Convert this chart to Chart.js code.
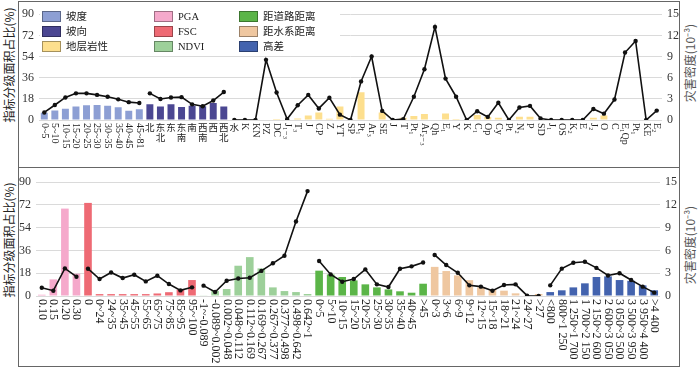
<!DOCTYPE html>
<html lang="zh">
<head>
<meta charset="utf-8">
<title>指标分级面积占比与灾害密度</title>
<script src="https://cdn.jsdelivr.net/npm/chart.js@4.4.1/dist/chart.umd.min.js"></script>
<style>
    html, body { margin: 0; padding: 0; background: #fff; }
    body {
        width: 700px; height: 368px; position: relative; overflow: hidden;
        font-family: "Liberation Serif", "Noto Sans CJK SC", serif; color: #222;
    }
    .frame { position: absolute; left: 18px; width: 660px; border: 1px solid #666; }
    canvas { position: absolute; left: 19px; }
    .ytitle {
        position: absolute; white-space: nowrap; font-size: 12px;
        font-family: "Noto Sans CJK SC", sans-serif; line-height: 14px;
        transform: translate(-50%, -50%) rotate(-90deg);
    }
    .legend {
        position: absolute; left: 40px; top: 11px; width: 300px; height: 42px; background: #fff;
    }
    .legend .item { position: absolute; height: 12px; font-size: 10.5px; line-height: 12px; white-space: nowrap; }
    .legend .sw {
        display: inline-block; width: 19px; height: 11px; vertical-align: top;
        border: 1px solid rgba(0, 0, 0, 0.35); margin-right: 5px; box-sizing: border-box;
    }
</style>
</head>
<body>

<div class="frame" style="top:1px;height:165px;"></div>
<div class="frame" style="top:167px;height:198px;"></div>

<canvas id="topChart" width="660" height="165" style="top:2px;width:660px;height:165px;"></canvas>
<canvas id="bottomChart" width="660" height="198" style="top:168px;width:660px;height:198px;"></canvas>

<div class="ytitle" style="left:9px;top:65px;">指标分级面积占比(%)</div>
<div class="ytitle" style="left:9px;top:240px;">指标分级面积占比(%)</div>
<div class="ytitle" style="left:690px;top:63px;color:#555;">灾害密度(10⁻³)</div>
<div class="ytitle" style="left:690px;top:245px;color:#555;">灾害密度(10⁻³)</div>

<div class="legend" id="legend"></div>

<script>
// ============================================================
//  DATA  (area share % on the left axis, hazard density 10^-3 on the right)
// ============================================================

const slopeLabels = ["0~5", "5~10", "10~15", "15~20", "20~25", "25~30", "30~35", "35~40", "40~45", "45~81"];
const slopeArea = [6.2, 8.1, 9.5, 11.4, 12.5, 12.7, 12.2, 10.8, 7.9, 9.2];
const slopeDensity = [1.07, 2.13, 3.2, 3.78, 3.78, 3.56, 3.29, 2.93, 2.53, 2.4];

const aspectLabels = ["北", "东北", "东", "东南", "南", "西南", "西", "西北"];
const aspectArea = [13.5, 11.4, 13.5, 11.1, 12.2, 11.7, 14.4, 11.4];
const aspectDensity = [3.78, 2.98, 3.2, 3.24, 2.22, 1.96, 2.76, 3.96];

const lithoLabels = ["水", "K", "KN", "PZ", "DC", "J₁₋₃", "T₃", "J", "CP", "Z", "YT", "SP", "Pt₁", "Ar₃",
    "SE", "J", "T", "Pt₁", "Ar₂₋₃", "Qh", "E₁", "Y", "K", "C₁", "Op", "Cy", "Pt", "N₂", "P", "SD",
    "J₁", "OS", "K₂", "E", "J₂", "O", "C", "E₁Qp", "Pt₁", "KE", "E₂"];
const lithoArea = [0, 0, 0, 0, 0.8, 0, 1.3, 3.8, 6.4, 1.0, 11.5, 0, 23.5, 0,
    6.4, 0, 1.9, 3.5, 5.0, 0, 5.6, 0.8, 0, 4.3, 2.5, 2.0, 0, 2.7, 2.7, 0.5,
    0, 0, 0.5, 0, 1.9, 3.8, 0, 0, 0, 0, 0.5];
const lithoDensity = [0, 0, 0, 8.53, 3.9, 0.13, 2.1, 3.56, 1.64, 3.16, 0.76, 0, 5.47, 9.0,
    1.29, 0, 0.13, 3.3, 7.2, 13.2, 5.87, 3.3, 0, 1.24, 0.44, 2.44, 0, 1.78, 2.0, 0.22,
    0, 0, 0, 0, 1.56, 0.9, 2.9, 9.56, 11.2, 0, 1.33];

const pgaLabels = ["0.10", "0.15", "0.20", "0.30"];
const pgaArea = [1.0, 13.1, 69, 17.6];
const pgaDensity = [1.09, 0.7, 3.63, 2.54];

const fscLabels = ["0", "0~24", "24~35", "35~45", "45~55", "55~65", "65~75", "75~85", "85~95", "95~100"];
const fscArea = [73.5, 1.5, 1.5, 1.5, 1.5, 1.5, 2.0, 3.0, 5.0, 12.6];
const fscDensity = [3.59, 2.23, 3.1, 2.36, 2.8, 1.92, 2.67, 1.57, 0.74, 1.14];

const ndviLabels = ["-1~-0.089", "-0.089~0.002", "0.002~0.048", "0.048~0.112", "0.112~0.169",
    "0.169~0.267", "0.267~0.377", "0.377~0.498", "0.498~0.642", "0.642~1"];
const ndviArea = [0.5, 4.0, 5.5, 23.9, 30.7, 21.8, 6.8, 3.9, 3.1, 1.6];
const ndviDensity = [1.36, 0.52, 2.0, 2.3, 2.4, 3.3, 4.3, 5.3, 9.8, 13.8];

const roadLabels = ["0~5", "5~10", "10~15", "15~20", "20~25", "25~30", "30~35", "35~40", "40~45", ">45"];
const roadArea = [20, 17, 15, 12.3, 9.2, 6.8, 5.2, 3.7, 2.6, 9.7];
const roadDensity = [4.6, 2.84, 1.88, 2.23, 3.5, 1.53, 1.18, 3.59, 3.9, 4.4];

const waterLabels = ["0~3", "3~6", "6~9", "9~12", "12~15", "15~18", "18~21", "21~24", "24~27", ">27"];
const waterArea = [23, 19.7, 16.3, 12.5, 6.8, 5.5, 4.2, 2.1, 0.5, 1.6];
const waterDensity = [5.4, 4.07, 3.06, 1.4, 1.23, 0.7, 1.45, 1.53, 0.04, 0];

const elevLabels = ["<800", "800~1 250", "1 250~1 700", "1 700~2 150", "2 150~2 600",
    "2 600~3 050", "3 050~3 500", "3 500~3 950", "3 950~4 400", ">4 400"];
const elevArea = [3.1, 4.5, 6.8, 10, 15, 15.5, 12.6, 12, 8.4, 4.5];
const elevDensity = [1.4, 3.6, 4.38, 4.5, 3.7, 2.7, 3.0, 2.1, 1.23, 0.44];

const areaTicks = [0, 18, 36, 54, 72, 90];
const densityTicks = [0, 3, 6, 9, 12, 15];

// ============================================================
//  GROUPS
// ============================================================

const topGroups = [
    { name: "坡度", labels: slopeLabels, area: slopeArea, density: slopeDensity, color: "#8d9fd4" },
    { name: "坡向", labels: aspectLabels, area: aspectArea, density: aspectDensity, color: "#4b4792" },
    { name: "地层岩性", labels: lithoLabels, area: lithoArea, density: lithoDensity, color: "#fddf8e" }
];

const bottomGroups = [
    { name: "PGA", labels: pgaLabels, area: pgaArea, density: pgaDensity, color: "#f5a9cb" },
    { name: "FSC", labels: fscLabels, area: fscArea, density: fscDensity, color: "#ee6a74" },
    { name: "NDVI", labels: ndviLabels, area: ndviArea, density: ndviDensity, color: "#9dd09a" },
    { name: "距道路距离", labels: roadLabels, area: roadArea, density: roadDensity, color: "#5bb548" },
    { name: "距水系距离", labels: waterLabels, area: waterArea, density: waterDensity, color: "#efc7a0" },
    { name: "高差", labels: elevLabels, area: elevArea, density: elevDensity, color: "#4363ae" }
];

// ============================================================
//  VERTICAL TICK LABELS (latin rotated clockwise, CJK upright)
// ============================================================

const isCJK = ch => /[\u3400-\u9fff]/.test(ch);

const verticalTicks = {
    id: "verticalTicks",
    afterDraw(chart, args, opts) {
        const ctx = chart.ctx;
        const xs = chart.scales.x;
        const size = opts.size;
        ctx.save();
        ctx.fillStyle = "#222";
        chart.data.labels.forEach((label, i) => {
            const x = xs.getPixelForValue(i);
            let y = chart.chartArea.bottom + opts.gap;
            let run = "";
            const flush = () => {
                if (!run) return;
                ctx.font = size + "px 'Liberation Serif', 'DejaVu Serif', serif";
                ctx.save();
                ctx.translate(x, y);
                ctx.rotate(Math.PI / 2);
                ctx.textAlign = "left";
                ctx.textBaseline = "middle";
                ctx.fillText(run, 0, 0);
                ctx.restore();
                y += ctx.measureText(run).width;
                run = "";
            };
            for (const ch of label) {
                if (isCJK(ch)) {
                    flush();
                    ctx.font = (size - 0.5) + "px 'Noto Sans CJK SC', sans-serif";
                    ctx.textAlign = "center";
                    ctx.textBaseline = "top";
                    ctx.fillText(ch, x, y);
                    y += size;
                } else {
                    run += ch;
                }
            }
            flush();
        });
        ctx.restore();
    }
};

// ============================================================
//  CHARTS
// ============================================================

function buildDatasets(groups) {
    const total = groups.reduce((n, g) => n + g.labels.length, 0);
    const bars = [];
    const lines = [];
    let offset = 0;

    groups.forEach(g => {
        const pad = values => {
            const out = new Array(total).fill(null);
            values.forEach((v, i) => { out[offset + i] = v; });
            return out;
        };
        bars.push({
            type: "bar",
            label: g.name,
            data: pad(g.area),
            backgroundColor: g.color,
            yAxisID: "y",
            grouped: false,
            barPercentage: 0.66,
            categoryPercentage: 1,
            order: 2
        });
        lines.push({
            type: "line",
            label: g.name + " 灾害密度",
            data: pad(g.density),
            yAxisID: "y1",
            borderColor: "#111",
            borderWidth: 1.6,
            pointRadius: 2.2,
            pointBackgroundColor: "#111",
            pointBorderWidth: 0,
            tension: 0,
            spanGaps: false,
            order: 1
        });
        offset += g.labels.length;
    });

    return {
        labels: groups.flatMap(g => g.labels),
        datasets: bars.concat(lines)
    };
}

function createPanel(canvasId, groups, sizes) {
    const el = document.getElementById(canvasId);
    const tickFont = { family: "'Liberation Serif', serif", size: 12 };

    return new Chart(el, {
        data: buildDatasets(groups),
        plugins: [verticalTicks],
        options: {
            responsive: false,
            animation: false,
            layout: { padding: { top: sizes.top, bottom: 0, left: 0, right: 0 } },
            plugins: {
                legend: { display: false },
                tooltip: { enabled: false },
                verticalTicks: { size: sizes.labelSize, gap: 3 }
            },
            scales: {
                x: {
                    type: "category",
                    ticks: { display: false },
                    grid: { display: false },
                    border: { display: false },
                    afterFit: s => { s.height = sizes.xHeight; }
                },
                y: {
                    position: "left",
                    min: 0,
                    max: 90,
                    afterBuildTicks: s => { s.ticks = areaTicks.map(v => ({ value: v })); },
                    ticks: { font: tickFont, color: "#333", padding: 5 },
                    grid: { color: "#dadada", lineWidth: 1, drawTicks: false },
                    border: { display: false },
                    afterFit: s => { s.width = sizes.left; }
                },
                y1: {
                    position: "right",
                    min: 0,
                    max: 15,
                    afterBuildTicks: s => { s.ticks = densityTicks.map(v => ({ value: v })); },
                    ticks: { font: tickFont, color: "#333", padding: 5 },
                    grid: { display: false, drawTicks: false },
                    border: { display: false },
                    afterFit: s => { s.width = sizes.right; }
                }
            }
        }
    });
}

// ============================================================
//  LEGEND (inside the top panel, three columns)
// ============================================================

function buildLegend() {
    const box = document.getElementById("legend");
    const all = topGroups.concat(bottomGroups);
    const colX = [2, 114, 199];
    const rowY = [0, 15, 30];
    all.forEach((g, i) => {
        const item = document.createElement("div");
        item.className = "item";
        item.style.left = colX[Math.floor(i / 3)] + "px";
        item.style.top = rowY[i % 3] + "px";
        item.innerHTML = '<span class="sw" style="background:' + g.color + '"></span>' + g.name;
        box.appendChild(item);
    });
}

// ============================================================
//  INIT
// ============================================================

document.addEventListener("DOMContentLoaded", () => {
    buildLegend();
    window.topPanel = createPanel("topChart", topGroups,
        { top: 7, xHeight: 47, left: 20, right: 17, labelSize: 10 });
    window.bottomPanel = createPanel("bottomChart", bottomGroups,
        { top: 14, xHeight: 70, left: 17, right: 19, labelSize: 12 });
});
</script>
</body>
</html>
